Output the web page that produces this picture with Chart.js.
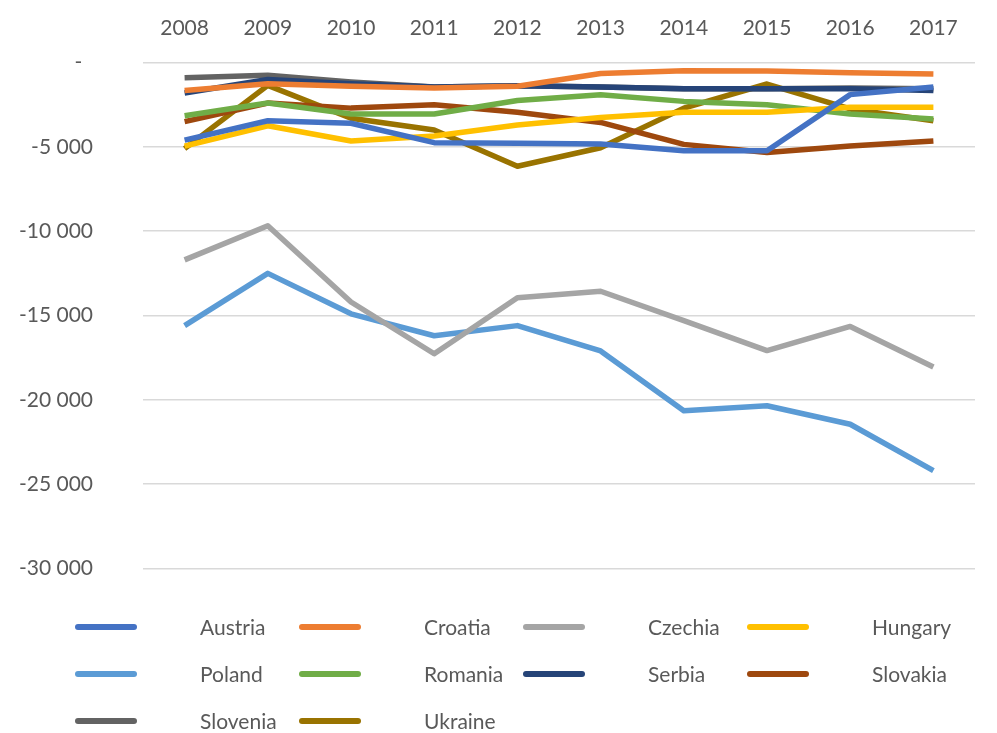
<!DOCTYPE html>
<html>
<head>
<meta charset="utf-8">
<script src="https://cdn.jsdelivr.net/npm/chart.js@4/dist/chart.umd.min.js"></script>
<style>
  html, body { margin: 0; padding: 0; background: #fff; }
  #wrap { position: relative; width: 997px; height: 733px; }
  #chart { position: absolute; left: 0; top: 0; }
  #legend {
    position: absolute; left: 75px; top: 603px;
    display: grid; grid-template-columns: repeat(4, 224px); grid-auto-rows: 47px;
    font-family: Lato, "Open Sans", sans-serif; font-size: 21px; color: #595959;
  }
  .item { display: flex; align-items: center; white-space: nowrap; }
  .swatch { width: 62px; height: 6px; border-radius: 3px; margin-right: 63px; flex: none; }
</style>
</head>
<body>
<div id="wrap">
  <canvas id="chart" width="997" height="631"></canvas>
  <div id="legend"></div>
</div>
<script>
/* Net balance by country, 2008-2017 */
const years = ['2008', '2009', '2010', '2011', '2012', '2013', '2014', '2015', '2016', '2017'];

const countries = ['Austria', 'Croatia', 'Czechia', 'Hungary', 'Poland',
                   'Romania', 'Serbia', 'Slovakia', 'Slovenia', 'Ukraine'];

const austria  = [-4600, -3450, -3600, -4750, -4780, -4830, -5230, -5230, -1900, -1450];
const croatia  = [-1650, -1250, -1400, -1500, -1400, -650, -480, -500, -600, -680];
const czechia  = [-11700, -9680, -14200, -17270, -13950, -13560, -15300, -17080, -15650, -18060];
const hungary  = [-4950, -3750, -4650, -4350, -3700, -3250, -2950, -2950, -2650, -2650];
const poland   = [-15600, -12500, -14900, -16200, -15600, -17100, -20650, -20350, -21450, -24200];
const romania  = [-3150, -2400, -3050, -3050, -2250, -1900, -2300, -2500, -3050, -3350];
const serbia   = [-1800, -1000, -1250, -1450, -1380, -1450, -1550, -1550, -1550, -1650];
const slovakia = [-3500, -2400, -2700, -2500, -2950, -3550, -4850, -5330, -4950, -4650];
const slovenia = [-900, -750, -1150, -1450, -1380, -1450, -1550, -1550, -1500, -1550];
const ukraine  = [-5100, -1350, -3300, -4000, -6150, -5050, -2700, -1270, -2750, -3450];

const yTicks = [0, -5000, -10000, -15000, -20000, -25000, -30000];

const series = [austria, croatia, czechia, hungary, poland, romania, serbia, slovakia, slovenia, ukraine];
const colors = ['#4472C4', '#ED7D31', '#A5A5A5', '#FFC000', '#5B9BD5',
                '#70AD47', '#264478', '#9E480E', '#636363', '#997300'];

const FONT = "Lato, 'Open Sans', sans-serif";
const TEXT = '#595959';

// thousands separated by a space, zero shown as a dash
function fmt(v) {
  if (v === 0) return '-  ';
  const s = Math.abs(v).toString().replace(/\B(?=(\d{3})+(?!\d))/g, ' ');
  return (v < 0 ? '-' : '') + s;
}

new Chart(document.getElementById('chart'), {
  type: 'line',
  data: {
    labels: years,
    datasets: series.map((d, i) => ({
      label: countries[i],
      data: d,
      borderColor: colors[i],
      backgroundColor: colors[i],
      borderWidth: 5.5,
      pointRadius: 0,
      tension: 0,
      borderJoinStyle: 'round',
      fill: false
    }))
  },
  options: {
    responsive: false,
    animation: false,
    devicePixelRatio: 1,
    layout: { padding: { left: 0, right: 22, top: 0, bottom: 23 } },
    plugins: { legend: { display: false }, tooltip: { enabled: false } },
    scales: {
      x: {
        position: 'top',
        offset: true,
        grid: { display: false, drawTicks: false },
        border: { display: false },
        ticks: { color: TEXT, font: { family: FONT, size: 21 }, padding: 22, maxRotation: 0 },
        afterFit: s => { s.height = 61; }
      },
      y: {
        min: -30000,
        max: 0,
        afterBuildTicks: s => { s.ticks = yTicks.map(v => ({ value: v })); },
        grid: { color: '#D9D9D9', lineWidth: 1.5, drawTicks: false },
        border: { display: false },
        ticks: { color: TEXT, font: { family: FONT, size: 21 }, padding: 50, callback: v => fmt(v) },
        afterFit: s => { s.width = 143; }
      }
    }
  }
});

// legend in four columns
const legend = document.getElementById('legend');
countries.forEach((name, i) => {
  const item = document.createElement('div');
  item.className = 'item';
  item.innerHTML = '<span class="swatch" style="background:' + colors[i] + '"></span>' + name;
  legend.appendChild(item);
});
</script>
</body>
</html>
